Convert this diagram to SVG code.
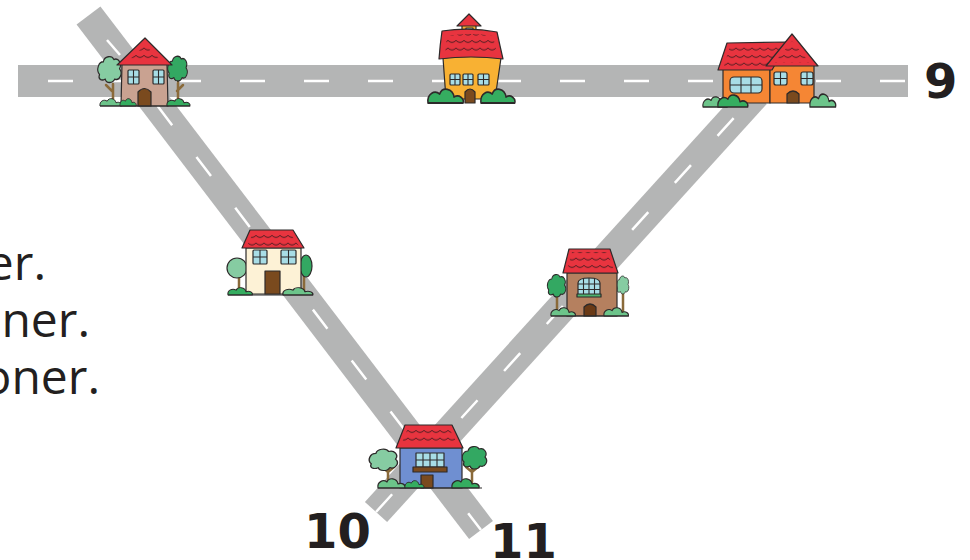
<svg xmlns="http://www.w3.org/2000/svg" width="970" height="560" viewBox="0 0 970 560">
<style>
.road{stroke:#b4b5b5;stroke-width:30;fill:none}
.dash{stroke:#fff;stroke-width:2.5;fill:none}
.o{stroke:#2d2a2a;stroke-width:1.2;stroke-linejoin:round}
.roof{fill:#e8343f}
.win{fill:#a8dde6}
.door{fill:#7a4a1e}
.trunk{stroke:#8a6a3a;stroke-width:2.5;fill:none;stroke-linecap:round}
.lg{fill:#86cca2}
.dg{fill:#33a862}
.bl{fill:#6cc48a}
.bd{fill:#35ad60}
.sc{fill:url(#sc)}
.gl{stroke:#2d2a2a;stroke-width:1.1;fill:none}
.txt{font-family:"Open Sans","DejaVu Sans",sans-serif;font-size:48px;fill:#231f20}
.num{font-family:"DejaVu Sans",Verdana,sans-serif;font-weight:bold;font-size:48px;fill:#231f20}
</style>
<defs>
<pattern id="sc" width="8" height="7.5" patternUnits="userSpaceOnUse"><path d="M0 3 Q4 7 8 3" fill="none" stroke="#3a1a1d" stroke-width="0.9"/></pattern>
<path id="bush" d="M0,0 C-1,-6 5,-9 9,-6 C11,-11 19,-10 20,-4 C24,-6 28,-3 27,0 Z"/>
<path id="cloud" d="M-11,3 C-15,-1 -12,-8 -7,-8 C-6,-13 2,-14 4,-10 C9,-12 13,-6 10,-2 C14,2 10,9 5,7 C3,11 -4,11 -5,7 C-9,9 -13,7 -11,3 Z"/>
</defs>
<rect width="970" height="560" fill="#fff"/>

<g id="roads">
  <line class="road" x1="88.5" y1="15.5" x2="481" y2="530"/>
  <line class="road" x1="376" y1="512" x2="755.7" y2="93.9"/>
  <rect x="18" y="65" width="890" height="32" fill="#b4b5b5"/>
  <line class="dash" x1="107" y1="40" x2="120" y2="55"/>
  <line class="dash" x1="157.6" y1="106.1" x2="481" y2="530" stroke-dasharray="24 40"/>
  <line class="dash" x1="376" y1="512" x2="755.7" y2="93.9" stroke-dasharray="24 39.5"/>
  <line class="dash" x1="48" y1="81" x2="908" y2="81" stroke-dasharray="25 39"/>
</g>

<g id="text">
  <text class="txt" x="46" y="280" text-anchor="end">er.</text>
  <text class="txt" x="90" y="337" text-anchor="end">oner.</text>
  <text class="txt" x="100" y="394" text-anchor="end">oner.</text>
  <text class="num" x="924" y="98">9</text>
  <text class="num" x="304" y="548">10</text>
  <text class="num" x="490" y="558">11</text>
</g>

<g id="house-tan">
  <path class="trunk" d="M113,103 V84 M112,91 L106,85"/>
  <use href="#cloud" class="lg o" transform="translate(110,71) scale(0.95,1.15)"/>
  <path class="trunk" d="M178,103 V82 M177,91 L183,85"/>
  <use href="#cloud" class="dg o" transform="translate(178,70) scale(0.8,1.1)"/>
  <path class="o" fill="#c9a291" d="M122,64 L167,64 L168,106 L121,106 Z"/>
  <path class="roof o" d="M145,38 L172,65 L117,65 Z"/>
  <path class="sc" d="M145,45 L163,62 L127,62 Z"/>
  <rect class="win o" x="128" y="70" width="11" height="14" rx="1"/>
  <path class="gl" d="M133.5,70 V84 M128,77 H139"/>
  <rect class="win o" x="153" y="70" width="11" height="14" rx="1"/>
  <path class="gl" d="M158.5,70 V84 M153,77 H164"/>
  <path class="door o" d="M138,106 V92 Q144.5,85 151,92 V106 Z"/>
  <use href="#bush" class="bl o" transform="translate(100,106) scale(0.8,0.8)"/>
  <use href="#bush" class="bd o" transform="translate(120,106) scale(0.6,0.8)"/>
  <use href="#bush" class="bd o" transform="translate(167,106) scale(0.85,0.8)"/>
  <path class="gl" d="M100,106 H190"/>
</g>

<g id="house-yellow">
  <rect class="o" fill="#f8b133" x="462" y="25" width="14" height="13"/>
  <rect class="win o" x="466" y="28" width="7" height="8"/>
  <path class="roof o" d="M469,14 L481,26 L457,26 Z"/>
  <path class="o" fill="#f8b133" d="M443,58 Q471,55 501,58 L495,99 L446,99 Z"/>
  <path class="roof o" d="M442,31 Q470,27 497,32 Q500,46 503,59 Q471,55 439,59 Q440,45 442,31 Z"/>
  <path class="sc" d="M447,36 Q470,32 493,36 L497,54 Q471,51 445,54 Z"/>
  <rect class="win o" x="450" y="74" width="10" height="11" rx="1"/>
  <path class="gl" d="M455,74 V85 M450,79.5 H460"/>
  <rect class="win o" x="463" y="74" width="10" height="11" rx="1"/>
  <path class="gl" d="M468,74 V85 M463,79.5 H473"/>
  <rect class="win o" x="478" y="74" width="11" height="11" rx="1"/>
  <path class="gl" d="M483.5,74 V85 M478,79.5 H489"/>
  <path class="door o" d="M465,103 V92 Q470,86 475,92 V103 Z"/>
  <use href="#bush" class="bd o" transform="translate(428,103) scale(1.3,1.5)"/>
  <use href="#bush" class="bd o" transform="translate(481,103) scale(1.25,1.5)"/>
</g>

<g id="house-orange">
  <rect class="o" fill="#f58634" x="723" y="66" width="47" height="37"/>
  <rect class="o" fill="#f58634" x="770" y="62" width="44" height="41"/>
  <path class="roof o" d="M727,43 L788,42 L772,70 L718,70 Z"/>
  <path class="sc" d="M730,46 L783,46 L770,66 L724,66 Z"/>
  <path class="roof o" d="M792,34 L818,66 L766,66 Z"/>
  <path class="sc" d="M792,41 L810,63 L774,63 Z"/>
  <rect class="win o" x="730" y="77" width="32" height="16" rx="4"/>
  <path class="gl" d="M741,77 V93 M751,77 V93 M730,85 H762"/>
  <rect class="win o" x="774" y="72" width="13" height="13" rx="2"/>
  <path class="gl" d="M780.5,72 V85 M774,78.5 H787"/>
  <rect class="win o" x="801" y="72" width="12" height="13" rx="2"/>
  <path class="gl" d="M807,72 V85 M801,78.5 H813"/>
  <path class="door o" d="M787,103 V94 Q793,88 799,94 V103 Z"/>
  <use href="#bush" class="bl o" transform="translate(703,107) scale(0.9,1.1)"/>
  <use href="#bush" class="bd o" transform="translate(718,107) scale(1.1,1.3)"/>
  <use href="#bush" class="bl o" transform="translate(810,107) scale(0.95,1.4)"/>
</g>

<g id="house-cream">
  <path class="trunk" d="M239,293 V276"/>
  <ellipse class="lg o" cx="237" cy="268" rx="10" ry="10"/>
  <path class="trunk" d="M304,293 V276"/>
  <ellipse class="dg o" cx="306" cy="266" rx="6" ry="11"/>
  <rect class="o" fill="#fdf2d6" x="246" y="248" width="55" height="46"/>
  <path class="roof o" d="M250,230 L293,230 L304,248 L242,248 Z"/>
  <path class="sc" d="M253,233 L290,233 L299,246 L247,246 Z"/>
  <rect class="win o" x="253" y="250" width="14" height="14" rx="1"/>
  <path class="gl" d="M260,250 V264 M253,257 H267"/>
  <rect class="win o" x="281" y="250" width="15" height="14" rx="1"/>
  <path class="gl" d="M288.5,250 V264 M281,257 H296"/>
  <rect class="door o" x="265" y="271" width="15" height="23"/>
  <use href="#bush" class="bd o" transform="translate(228,295) scale(0.9,0.8)"/>
  <use href="#bush" class="bl o" transform="translate(283,295) scale(1.1,0.8)"/>
  <path class="gl" d="M228,295 H313"/>
</g>

<g id="house-brown">
  <path class="trunk" d="M557,313 V292"/>
  <use href="#cloud" class="dg o" transform="translate(557,287) scale(0.75,1)"/>
  <path class="trunk" d="M623,313 V292"/>
  <use href="#cloud" class="lg o" transform="translate(623,286) scale(0.5,0.8)"/>
  <rect class="o" fill="#b5805f" x="567" y="273" width="50" height="43"/>
  <path class="roof o" d="M569,249 L610,249 L618,273 L563,273 Z"/>
  <path class="sc" d="M572,252 L607,252 L614,270 L567,270 Z"/>
  <path class="win o" d="M578,295 V283 Q578,278 589,278 Q600,278 600,283 V295 Z"/>
  <path class="gl" d="M583.5,279 V295 M589,278 V295 M594.5,279 V295 M578,284 H600 M578,289.5 H600"/>
  <rect class="o" fill="#4db36f" x="577" y="294" width="24" height="3"/>
  <path class="o" fill="#6a3a16" d="M584,316 V307 Q590,301 596,307 V316 Z"/>
  <use href="#bush" class="bl o" transform="translate(551,316) scale(0.9,0.9)"/>
  <use href="#bush" class="bl o" transform="translate(604,316) scale(0.9,0.9)"/>
  <path class="gl" d="M551,316 H629"/>
</g>

<g id="house-blue">
  <path class="trunk" d="M388,482 V466 M388,472 L381,466 M388,472 L394,467"/>
  <use href="#cloud" class="lg o" transform="translate(384,461) scale(1.15,0.95)"/>
  <path class="trunk" d="M472,482 V466 M472,472 L466,467 M472,472 L479,466"/>
  <use href="#cloud" class="dg o" transform="translate(475,459)"/>
  <rect class="o" fill="#6f8fd1" x="400" y="448" width="62" height="40"/>
  <path class="roof o" d="M405,425 L452,425 L463,448 L396,448 Z"/>
  <path class="sc" d="M408,428 L449,428 L458,445 L401,445 Z"/>
  <rect class="win o" x="416" y="453" width="28" height="14"/>
  <path class="gl" d="M423,453 V467 M430,453 V467 M437,453 V467 M416,460 H444"/>
  <rect class="door o" x="413" y="467" width="34" height="5"/>
  <rect class="door o" x="421" y="475" width="12" height="13"/>
  <use href="#bush" class="bl o" transform="translate(378,488)"/>
  <use href="#bush" class="bd o" transform="translate(405,488) scale(0.7,0.8)"/>
  <use href="#bush" class="bd o" transform="translate(452,488)"/>
  <path class="gl" d="M378,488 H482"/>
</g>
</svg>
